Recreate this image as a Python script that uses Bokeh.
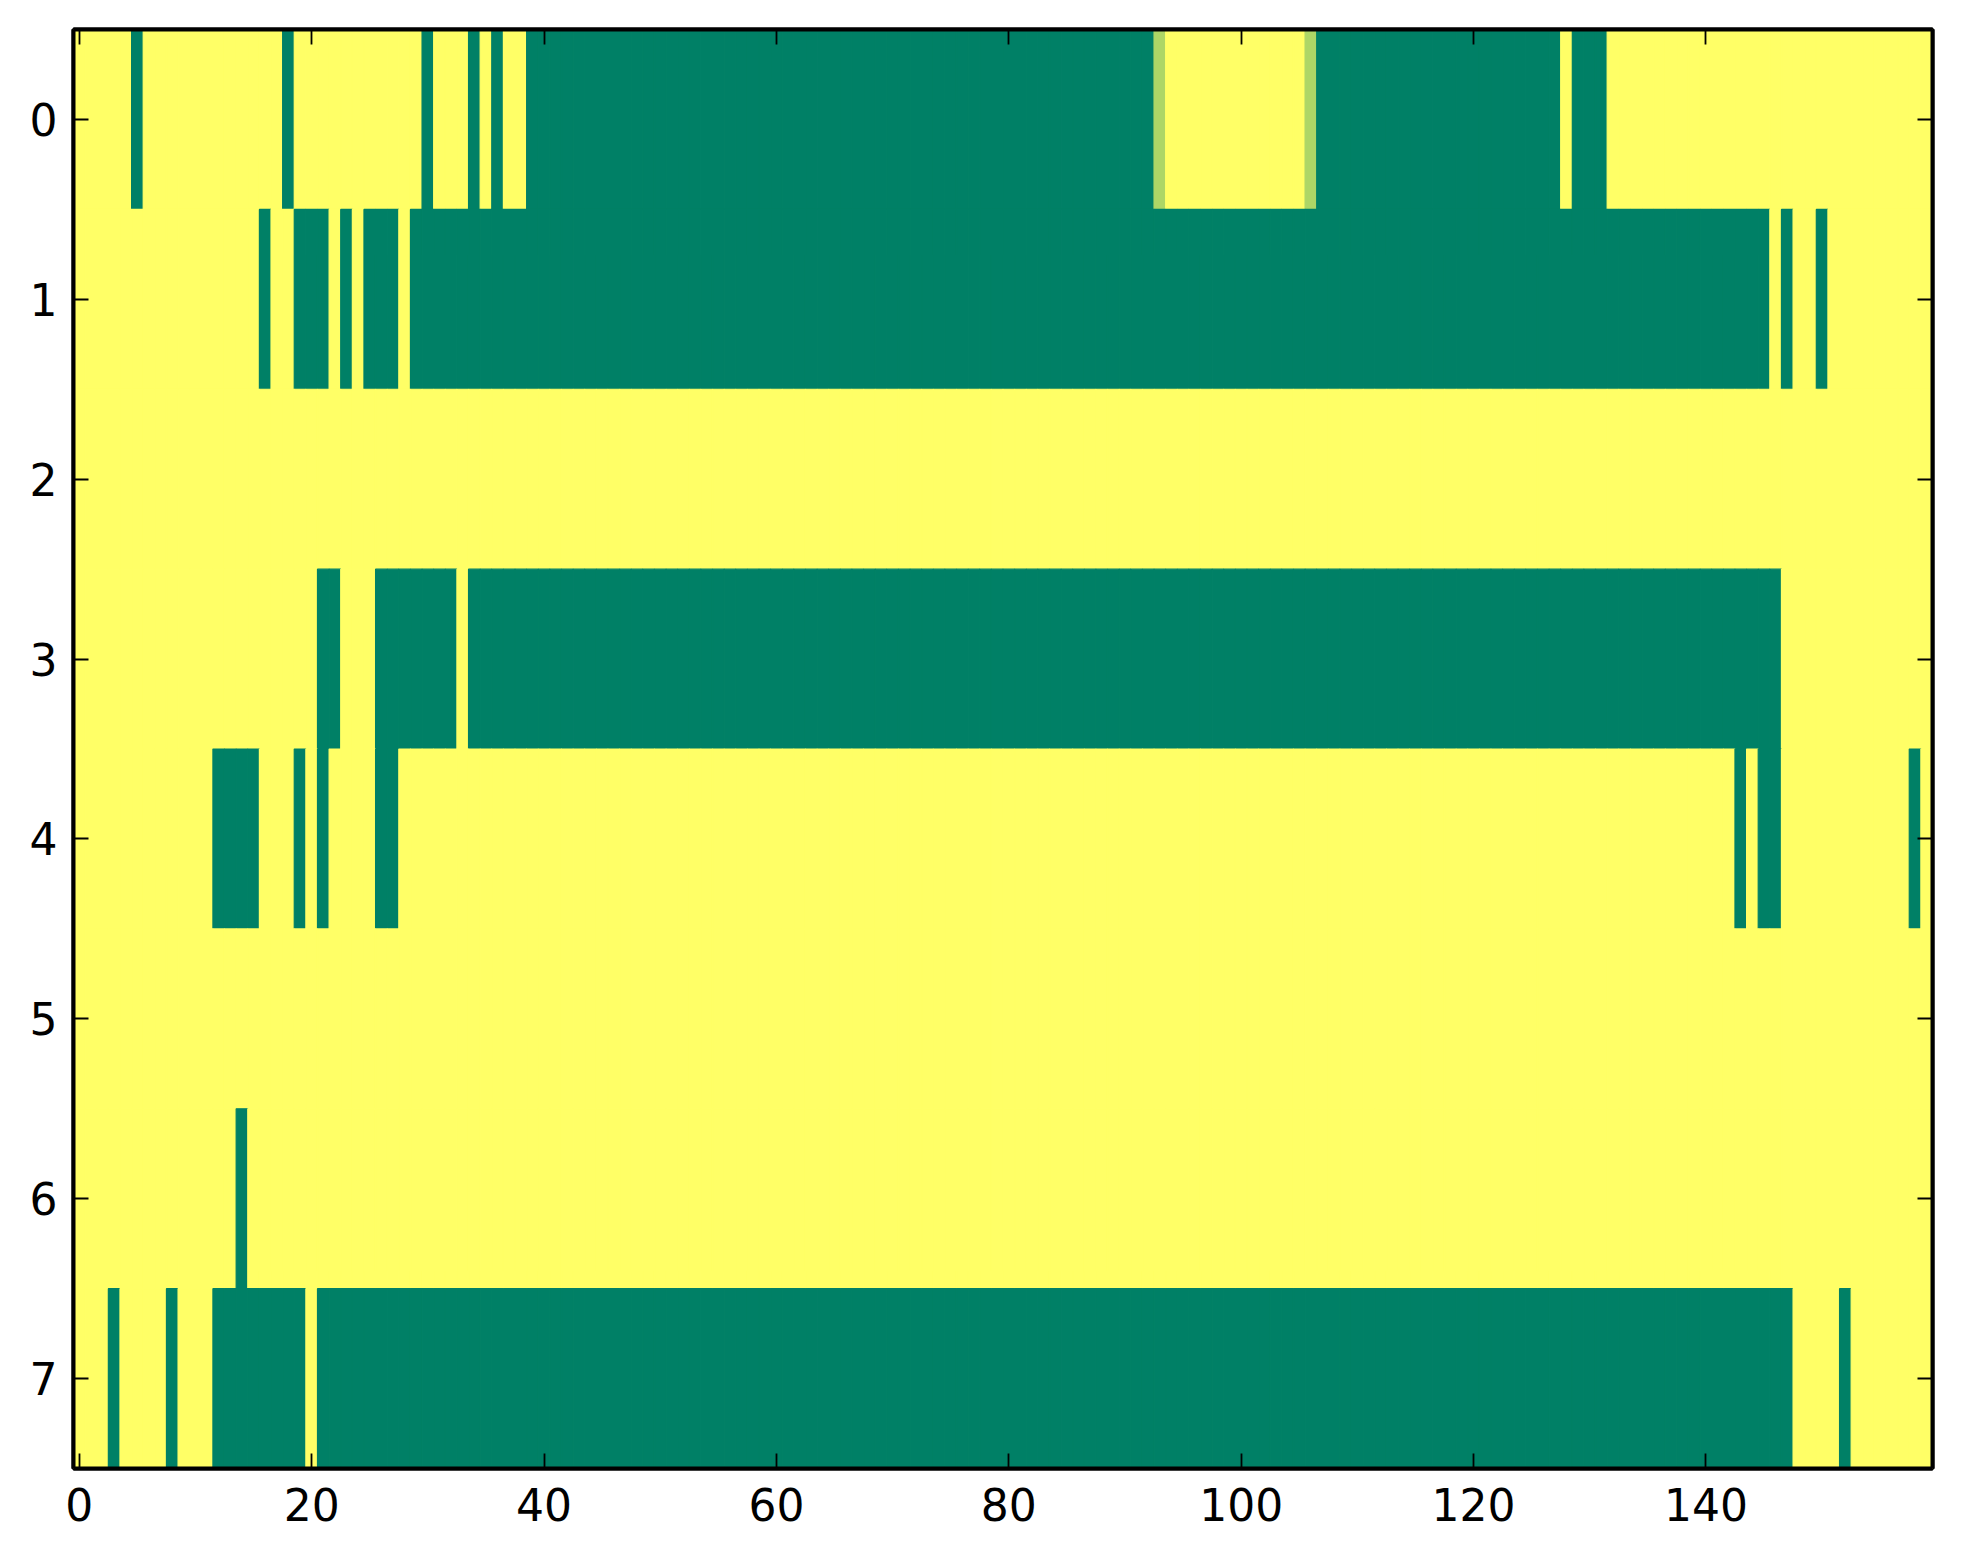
from bokeh.plotting import figure
from bokeh.models import Range1d, LinearAxis, FixedTicker, ColumnDataSource
from bokeh.embed import file_html
from bokeh.resources import INLINE

# Cell values: '1' = 1.0 (yellow), '0' = 0.0 (green), 'm' = ~0.68 (light green)
row0 = "1111101111 1111111101 1111111111 0111010110 0000000000 0000000000 0000000000 0000000000 0000000000 000m111111 111111m000 0000000000 0000000010 0011111111 1111111111 1111111111"
row1 = "1111111111 1111110110 0010100010 0000000000 0000000000 0000000000 0000000000 0000000000 0000000000 0000000000 0000000000 0000000000 0000000000 0000000000 0000001011 0111111111"
row2 = "1111111111 1111111111 1111111111 1111111111 1111111111 1111111111 1111111111 1111111111 1111111111 1111111111 1111111111 1111111111 1111111111 1111111111 1111111111 1111111111"
row3 = "1111111111 1111111111 1001110000 0001000000 0000000000 0000000000 0000000000 0000000000 0000000000 0000000000 0000000000 0000000000 0000000000 0000000000 0000000111 1111111111"
row4 = "1111111111 1100001110 1011110011 1111111111 1111111111 1111111111 1111111111 1111111111 1111111111 1111111111 1111111111 1111111111 1111111111 1111111111 1110100111 1111111101"
row5 = "1111111111 1111111111 1111111111 1111111111 1111111111 1111111111 1111111111 1111111111 1111111111 1111111111 1111111111 1111111111 1111111111 1111111111 1111111111 1111111111"
row6 = "1111111111 1111011111 1111111111 1111111111 1111111111 1111111111 1111111111 1111111111 1111111111 1111111111 1111111111 1111111111 1111111111 1111111111 1111111111 1111111111"
row7 = "1110111101 1100000000 1000000000 0000000000 0000000000 0000000000 0000000000 0000000000 0000000000 0000000000 0000000000 0000000000 0000000000 0000000000 0000000011 1101111111"
rows = [row0, row1, row2, row3, row4, row5, row6, row7]
code_values = {"1": 1.0, "0": 0.0, "m": 0.68}

x_ticks = [0, 20, 40, 60, 80, 100, 120, 140]
y_ticks = [0, 1, 2, 3, 4, 5, 6, 7]


def summer(v):
    r = int(round(255 * v))
    g = int(round(255 * (0.5 + 0.5 * v)))
    b = int(round(255 * 0.4))
    return "#%02x%02x%02x" % (r, g, b)


xs, ys, cols = [], [], []
for j, r in enumerate(rows):
    vals = [code_values[c] for c in r.replace(" ", "")]
    for i, v in enumerate(vals):
        xs.append(i)
        ys.append(j)
        cols.append(summer(v))

src = ColumnDataSource(dict(x=xs, y=ys, c=cols))

p = figure(width=1947, height=1548, output_backend="svg", toolbar_location=None,
           x_range=Range1d(-0.5, 159.5), y_range=Range1d(7.5, -0.5),
           min_border_left=73, min_border_right=15, min_border_top=29, min_border_bottom=80)
p.background_fill_color = "white"
p.border_fill_color = "white"
p.grid.visible = False

p.rect(x="x", y="y", width=1, height=1, source=src, fill_color="c", line_color="c", line_width=1.2)

FONT = "DejaVu Sans"
SIZE = "44px"


def style(ax, ticks, show_labels, standoff):
    ax.ticker = FixedTicker(ticks=ticks)
    ax.axis_line_color = "black"
    ax.axis_line_width = 4
    ax.major_tick_in = 15
    ax.major_tick_out = 0
    ax.major_tick_line_width = 1.8
    ax.major_tick_line_color = "black"
    ax.minor_tick_line_color = None
    ax.major_label_text_font = FONT
    ax.major_label_text_color = "black"
    if show_labels:
        ax.major_label_text_font_size = SIZE
        ax.major_label_standoff = standoff
    else:
        ax.major_label_text_font_size = "1px"
        ax.major_label_text_color = None
        ax.major_label_standoff = 0


style(p.xaxis[0], x_ticks, True, 19)
style(p.yaxis[0], y_ticks, True, 16)

top = LinearAxis()
style(top, x_ticks, False, 0)
p.add_layout(top, "above")
right = LinearAxis()
style(right, y_ticks, False, 0)
p.add_layout(right, "right")

p.outline_line_color = "black"
p.outline_line_width = 4
p.outline_line_alpha = 1.0

open("out.html", "w").write(file_html(p, INLINE))
